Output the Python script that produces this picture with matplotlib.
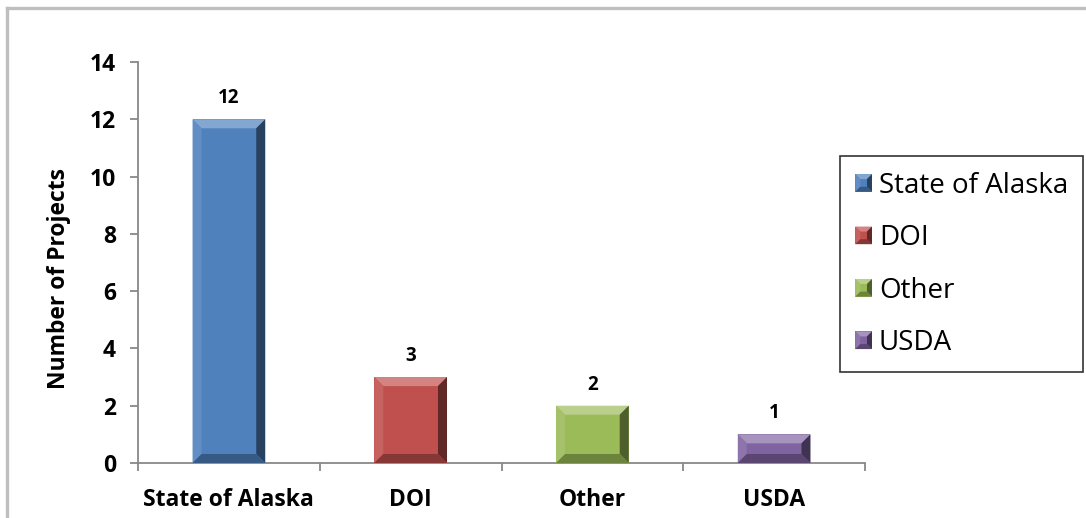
#!/usr/bin/env python3

import matplotlib
matplotlib.use("Agg")
import matplotlib.pyplot as plt
from matplotlib.patches import Polygon
from matplotlib.lines import Line2D
from matplotlib.legend_handler import HandlerBase
from matplotlib.colors import to_rgb

categories = ["State of Alaska", "DOI", "Other", "USDA"]
projects = [12, 3, 2, 1]
colors = ["#4F81BD", "#C0504D", "#9BBB59", "#8064A2"]
yticks = [0, 2, 4, 6, 8, 10, 12, 14]

plt.rcParams["font.family"] = ["Open Sans", "DejaVu Sans"]
AXIS_GREY = "#888888"


def shade(c, f):
    # f > 0 lightens toward white, f < 0 darkens toward black
    r, g, b = to_rgb(c)
    if f >= 0:
        return (r + (1 - r) * f, g + (1 - g) * f, b + (1 - b) * f)
    return (r * (1 + f), g * (1 + f), b * (1 + f))


def bevel_polys(x0, y0, x1, y1, b, c):
    # face plus four bevel edges, coords in whatever units x/y are in
    return [
        ([(x0, y0), (x1, y0), (x1, y1), (x0, y1)], c),
        ([(x0, y1), (x1, y1), (x1 - b, y1 - b), (x0 + b, y1 - b)], shade(c, 0.3)),
        ([(x0, y0), (x0, y1), (x0 + b, y1 - b), (x0 + b, y0 + b)], shade(c, 0.1)),
        ([(x1, y0), (x1, y1), (x1 - b, y1 - b), (x1 - b, y0 + b)], shade(c, -0.5)),
        ([(x0, y0), (x1, y0), (x1 - b, y0 + b), (x0 + b, y0 + b)], shade(c, -0.3)),
    ]


class BevelHandler(HandlerBase):
    def create_artists(self, legend, orig_handle, xdescent, ydescent,
                       width, height, fontsize, trans):
        c = orig_handle.get_facecolor()
        x0, y0 = -xdescent, -ydescent
        b = min(width, height) * 0.3
        out = []
        for pts, col in bevel_polys(x0, y0, x0 + width, y0 + height, b, c):
            p = Polygon(pts, closed=True, facecolor=col, edgecolor="none", transform=trans)
            out.append(p)
        return out


fig = plt.figure(figsize=(10.86, 5.18), dpi=100)
ax = fig.add_axes([0.1271, 0.1062, 0.6694, 0.7741])

x = list(range(len(categories)))
bars = ax.bar(x, projects, width=0.4, color=colors, edgecolor="none", zorder=2)

ax.set_xlim(-0.5, 3.5)
ax.set_ylim(0, 14)
ax.set_yticks(yticks)
ax.set_xticks(x)
ax.set_xticklabels(categories)
ax.set_xticks([-0.5, 0.5, 1.5, 2.5, 3.5], minor=True)
ax.tick_params(axis="x", which="major", length=0, pad=18)
ax.tick_params(axis="x", which="minor", length=6, width=1.3, color=AXIS_GREY, direction="out")
ax.tick_params(axis="y", length=6, width=1.3, color=AXIS_GREY, pad=10)
for lbl in ax.get_xticklabels() + ax.get_yticklabels():
    lbl.set_fontweight("bold")
    lbl.set_fontsize(16.5)

for s in ["top", "right"]:
    ax.spines[s].set_visible(False)
for s in ["left", "bottom"]:
    ax.spines[s].set_color(AXIS_GREY)
    ax.spines[s].set_linewidth(1.3)

ax.set_ylabel("Number of Projects", fontsize=16.5, fontweight="bold")
ax.yaxis.set_label_coords(-0.092, 0.46)

for i, v in enumerate(projects):
    ax.annotate(str(v), (x[i], v), xytext=(0, 8), textcoords="offset points",
                ha="center", va="bottom", fontsize=13.5, fontweight="bold")

# bevel overlay drawn in pixel coords on top of each bar
fig.canvas.draw()
for bar, c in zip(bars, colors):
    (px0, py0), (px1, py1) = ax.transData.transform(
        [(bar.get_x(), 0), (bar.get_x() + bar.get_width(), bar.get_height())])
    for pts, col in bevel_polys(px0, py0, px1, py1, 9, c):
        ax.add_patch(Polygon(pts, closed=True, facecolor=col, edgecolor="none",
                             transform=None, zorder=3))

leg = fig.legend(bars, categories, handler_map={type(bars[0]): BevelHandler()},
                 loc="upper left", bbox_to_anchor=(0.7735, 0.698),
                 fontsize=20, frameon=True, fancybox=False, edgecolor="black",
                 handlelength=0.6, handleheight=0.6, handletextpad=0.25,
                 labelspacing=0.88, borderpad=0.55, borderaxespad=0)
leg.get_frame().set_linewidth(1.2)

# outer chart frame (top and left edges visible)
fig.add_artist(Line2D([0.0069, 0.0069], [0, 0.9846], color="#BFBFBF", lw=2.4))
fig.add_artist(Line2D([0.0069, 1.0], [0.9846, 0.9846], color="#BFBFBF", lw=2.4))

fig.savefig("out.png", dpi=100)
